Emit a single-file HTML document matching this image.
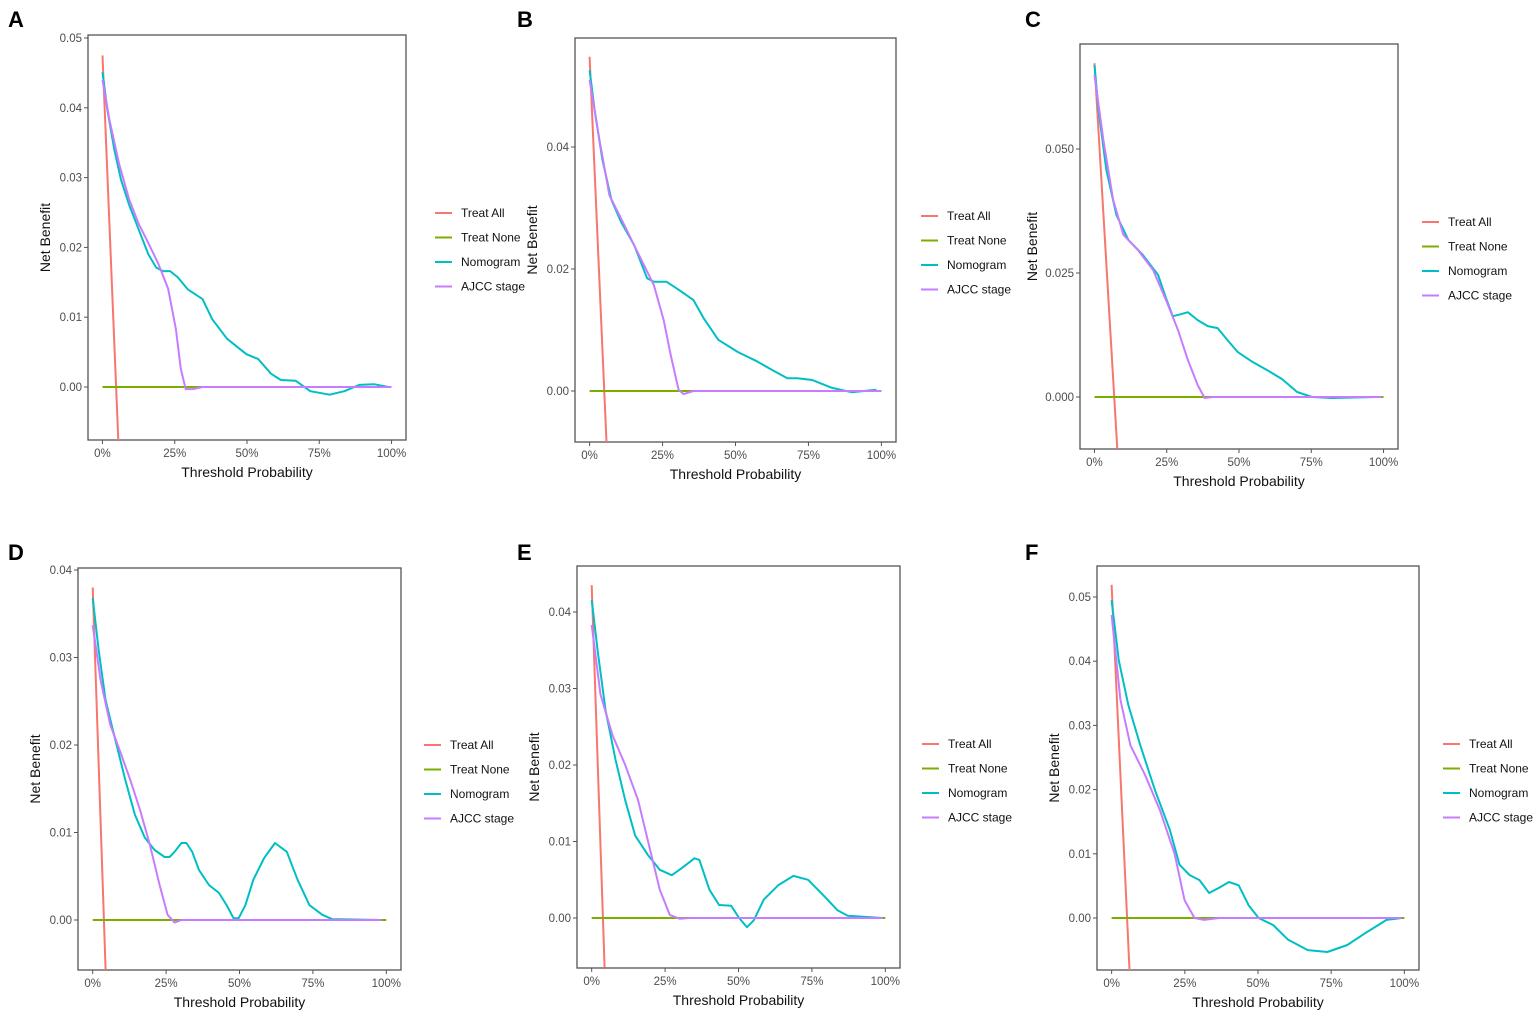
<!DOCTYPE html>
<html><head><meta charset="utf-8"><style>
body{margin:0;background:#fff;}
svg{display:block;font-family:"Liberation Sans",Arial,sans-serif;}
</style></head><body>
<svg id="fig" width="1535" height="1019" viewBox="0 0 1535 1019"></svg>
<script>
// ---- data (threshold probability vs net benefit) ----
const allT_A=[0,0.055], allNB_A=[0.0475,-0.008];
const nomT_A=[0,0.017,0.041,0.064,0.092,0.125,0.159,0.186,0.21,0.234,0.261,0.295,0.346,0.38,0.431,0.498,0.539,0.583,0.617,0.668,0.719,0.786,0.837,0.888,0.939,0.99];
const nomNB_A=[0.0451,0.0397,0.034,0.0297,0.0261,0.0226,0.019,0.0171,0.0166,0.0166,0.0157,0.014,0.0126,0.0097,0.0069,0.0047,0.004,0.0019,0.001,0.0009,-0.0006,-0.0011,-0.0006,0.0003,0.0004,0];
const ajT_A=[0,0.024,0.058,0.092,0.125,0.159,0.193,0.227,0.254,0.271,0.288,0.312,0.346,1.0];
const ajNB_A=[0.044,0.0383,0.0319,0.0269,0.0234,0.0206,0.0177,0.0141,0.0083,0.0026,-0.0003,-0.0003,0,0];
const yTicks_A=[0,0.01,0.02,0.03,0.04,0.05], yLab_A=["0.00","0.01","0.02","0.03","0.04","0.05"];

const allT_B=[0,0.058], allNB_B=[0.0548,-0.0084];
const nomT_B=[0,0.017,0.044,0.075,0.108,0.153,0.197,0.22,0.264,0.305,0.356,0.39,0.441,0.508,0.576,0.627,0.678,0.712,0.763,0.831,0.898,0.983];
const nomNB_B=[0.0526,0.0461,0.0379,0.0313,0.0277,0.0239,0.0185,0.0179,0.0179,0.0166,0.0149,0.012,0.0084,0.0064,0.0048,0.0034,0.0021,0.0021,0.0018,0.0005,-0.0002,0.0002];
const ajT_B=[0,0.034,0.068,0.119,0.169,0.22,0.254,0.278,0.305,0.322,0.356,1];
const ajNB_B=[0.051,0.0411,0.0321,0.0272,0.0223,0.0174,0.0116,0.0059,0.0002,-0.0005,0,0];
const yTicks_B=[0,0.02,0.04], yLab_B=["0.00","0.02","0.04"];

const allT_C=[0,0.079], allNB_C=[0.0673,-0.0105];
const nomT_C=[0,0.014,0.041,0.076,0.117,0.168,0.22,0.247,0.271,0.299,0.323,0.357,0.392,0.426,0.46,0.495,0.546,0.598,0.649,0.701,0.753,0.821,0.976];
const nomNB_C=[0.0669,0.0579,0.0458,0.0367,0.0317,0.0286,0.0246,0.02,0.0163,0.0167,0.0171,0.0155,0.0143,0.0139,0.0115,0.0091,0.0071,0.0054,0.0036,0.001,0,-0.0002,0];
const ajT_C=[0,0.031,0.065,0.1,0.151,0.203,0.247,0.289,0.323,0.357,0.381,0.409,0.993];
const ajNB_C=[0.0649,0.0518,0.0397,0.0327,0.0296,0.0256,0.0196,0.0135,0.0075,0.0024,-0.0002,0,0];
const yTicks_C=[0,0.025,0.05], yLab_C=["0.000","0.025","0.050"];

const allT_D=[0,0.044], allNB_D=[0.038,-0.0057];
const nomT_D=[0,0.02,0.044,0.077,0.111,0.144,0.178,0.211,0.245,0.262,0.279,0.302,0.319,0.339,0.362,0.396,0.43,0.456,0.48,0.497,0.520,0.547,0.584,0.621,0.661,0.698,0.738,0.782,0.815,0.983];
const nomNB_D=[0.0368,0.0309,0.0251,0.0206,0.016,0.012,0.0094,0.008,0.0072,0.0072,0.0078,0.0088,0.0088,0.0078,0.0057,0.004,0.0031,0.0017,0.0002,0.0002,0.0017,0.0046,0.0071,0.0088,0.0078,0.0046,0.0017,0.0006,0.0001,0];
const ajT_D=[0,0.027,0.06,0.094,0.128,0.161,0.195,0.228,0.255,0.279,0.302,0.983];
const ajNB_D=[0.0337,0.0274,0.0223,0.0192,0.016,0.0126,0.0086,0.004,0.0006,-0.0003,0,0];
const yTicks_D=[0,0.01,0.02,0.03,0.04], yLab_D=["0.00","0.01","0.02","0.03","0.04"];

const allT_E=[0,0.044], allNB_E=[0.0435,-0.0065];
const nomT_E=[0,0.02,0.047,0.081,0.114,0.148,0.192,0.232,0.273,0.306,0.35,0.367,0.401,0.434,0.475,0.502,0.529,0.552,0.586,0.636,0.687,0.737,0.788,0.838,0.872,0.99];
const nomNB_E=[0.0416,0.035,0.0272,0.0207,0.0154,0.0108,0.0082,0.0063,0.0056,0.0065,0.0078,0.0076,0.0037,0.0017,0.0016,0,-0.0012,-0.0003,0.0024,0.0043,0.0055,0.005,0.003,0.001,0.0003,0];
const ajT_E=[0,0.03,0.071,0.114,0.158,0.199,0.232,0.266,0.3,0.333,0.99];
const ajNB_E=[0.0383,0.0292,0.0239,0.02,0.0154,0.0089,0.0037,0.0004,-0.0001,0,0];
const yTicks_E=[0,0.01,0.02,0.03,0.04], yLab_E=["0.00","0.01","0.02","0.03","0.04"];

const allT_F=[0,0.061], allNB_F=[0.0519,-0.0081];
const nomT_F=[0,0.024,0.057,0.098,0.148,0.199,0.232,0.266,0.3,0.333,0.367,0.401,0.434,0.468,0.502,0.552,0.603,0.67,0.737,0.805,0.872,0.939,0.99];
const nomNB_F=[0.0495,0.0402,0.0332,0.0269,0.0199,0.0137,0.0083,0.0067,0.0059,0.0039,0.0047,0.0056,0.0051,0.002,0,-0.0011,-0.0034,-0.005,-0.0053,-0.0042,-0.0022,-0.0003,0];
const ajT_F=[0,0.03,0.064,0.114,0.165,0.215,0.249,0.283,0.316,0.367,0.99];
const ajNB_F=[0.0472,0.034,0.0269,0.0223,0.0168,0.01,0.0028,0,-0.0003,0,0];
const yTicks_F=[0,0.01,0.02,0.03,0.04,0.05], yLab_F=["0.00","0.01","0.02","0.03","0.04","0.05"];

const xTicks=[0,0.25,0.5,0.75,1], xLab=["0%","25%","50%","75%","100%"];
const legendNames=["Treat All","Treat None","Nomogram","AJCC stage"];

// ---- layout ----
const NS="http://www.w3.org/2000/svg";
const svg=document.getElementById('fig');
const COLORS=["#F8766D","#7CAE00","#00BFC4","#C77CFF"];
function mk(tag,attrs,parent){const e=document.createElementNS(NS,tag);for(const k in attrs)e.setAttribute(k,attrs[k]);(parent||svg).appendChild(e);return e;}

const panels=[
 {id:"A",lx:8,ly:27,box:[88,35,406,440],y0:0,y0px:387,y1:0.05,y1px:38,yt:yTicks_A,yl:yLab_A,all:[allT_A,allNB_A],nom:[nomT_A,nomNB_A],aj:[ajT_A,ajNB_A],leg:[435,213],yo:38},
 {id:"B",lx:517,ly:27,box:[575,38,896,442],y0:0,y0px:391,y1:0.04,y1px:147,yt:yTicks_B,yl:yLab_B,all:[allT_B,allNB_B],nom:[nomT_B,nomNB_B],aj:[ajT_B,ajNB_B],leg:[921,216],yo:38},
 {id:"C",lx:1025,ly:27,box:[1080,44,1398,449],y0:0,y0px:397,y1:0.05,y1px:149,yt:yTicks_C,yl:yLab_C,all:[allT_C,allNB_C],nom:[nomT_C,nomNB_C],aj:[ajT_C,ajNB_C],leg:[1422,222],yo:43},
 {id:"D",lx:8,ly:560,box:[78,568,401,970],y0:0,y0px:920,y1:0.04,y1px:570,yt:yTicks_D,yl:yLab_D,all:[allT_D,allNB_D],nom:[nomT_D,nomNB_D],aj:[ajT_D,ajNB_D],leg:[424,745],yo:38},
 {id:"E",lx:517,ly:560,box:[577,566,900,968],y0:0,y0px:918,y1:0.04,y1px:612,yt:yTicks_E,yl:yLab_E,all:[allT_E,allNB_E],nom:[nomT_E,nomNB_E],aj:[ajT_E,ajNB_E],leg:[922,744],yo:38},
 {id:"F",lx:1025,ly:560,box:[1097,566,1419,970],y0:0,y0px:918,y1:0.05,y1px:597,yt:yTicks_F,yl:yLab_F,all:[allT_F,allNB_F],nom:[nomT_F,nomNB_F],aj:[ajT_F,ajNB_F],leg:[1443,744],yo:38}
];

panels.forEach(p=>{
 const [L,T,R,B]=p.box, W=R-L;
 const g=mk('g',{});
 
 
 const xs=t=>L+W*(t+0.05)/1.1;
 const ys=v=>p.y0px+(v-p.y0)*(p.y1px-p.y0px)/(p.y1-p.y0);
 const lab=mk('text',{x:p.lx,y:p.ly,'font-size':22,'font-weight':'bold',fill:'#000'},g);
 lab.textContent=p.id;
 
 
 const cid='clip'+p.id;
 const cp=mk('clipPath',{id:cid},g); mk('rect',{x:L,y:T,width:W,height:B-T},cp);
 const box=mk('rect',{x:L,y:T,width:W,height:B-T,fill:'none',stroke:'#555','stroke-width':1.3},g);
 
 
 p.yt.forEach((v,i)=>{
  const y=ys(v);
  mk('line',{x1:L-4,x2:L,y1:y,y2:y,stroke:'#555'},g);
  const t=mk('text',{x:L-6,y:y+4,'font-size':11.5,fill:'#4d4d4d','text-anchor':'end'},g);
  t.textContent=p.yl[i];
  
  
 });
 xTicks.forEach((v,i)=>{
  const x=xs(v);
  mk('line',{x1:x,x2:x,y1:B,y2:B+4,stroke:'#555'},g);
  const t=mk('text',{x:x,y:B+17,'font-size':11.5,fill:'#4d4d4d','text-anchor':'middle'},g);
  t.textContent=xLab[i];
  
  
 });
 const xt=mk('text',{x:(L+R)/2,y:B+37,'font-size':14,fill:'#111','text-anchor':'middle'},g);
 xt.textContent="Threshold Probability";
 
 
 const cy=(T+B)/2, yx=L-p.yo;
 const yt=mk('text',{x:yx,y:cy,'font-size':14,fill:'#111','text-anchor':'middle',transform:`rotate(-90 ${yx} ${cy})`},g);
 yt.textContent="Net Benefit";
 
 
 const series=[p.all,[[0,1],[0,0]],p.nom,p.aj];
 const snames=['treat-all-line','treat-none-line','nomogram-line','ajcc-stage-line'];
 series.forEach((s,k)=>{
  const pts=s[0].map((t,i)=>xs(t).toFixed(1)+','+ys(s[1][i]).toFixed(1)).join(' ');
  const pl=mk('polyline',{points:pts,fill:'none',stroke:COLORS[k],'stroke-width':2,'stroke-linejoin':'round','clip-path':`url(#${cid})`},g);
  
  
 });
 legendNames.forEach((n,k)=>{
  const [lx,ly]=p.leg, y=ly+k*24.5;
  const le=mk('g',{},g);
  
  
  mk('line',{x1:lx,x2:lx+17,y1:y,y2:y,stroke:COLORS[k],'stroke-width':2},le);
  const t=mk('text',{x:lx+26,y:y+4,'font-size':12,fill:'#111'},le);
  t.textContent=n;
 });
});
</script>
</body></html>
